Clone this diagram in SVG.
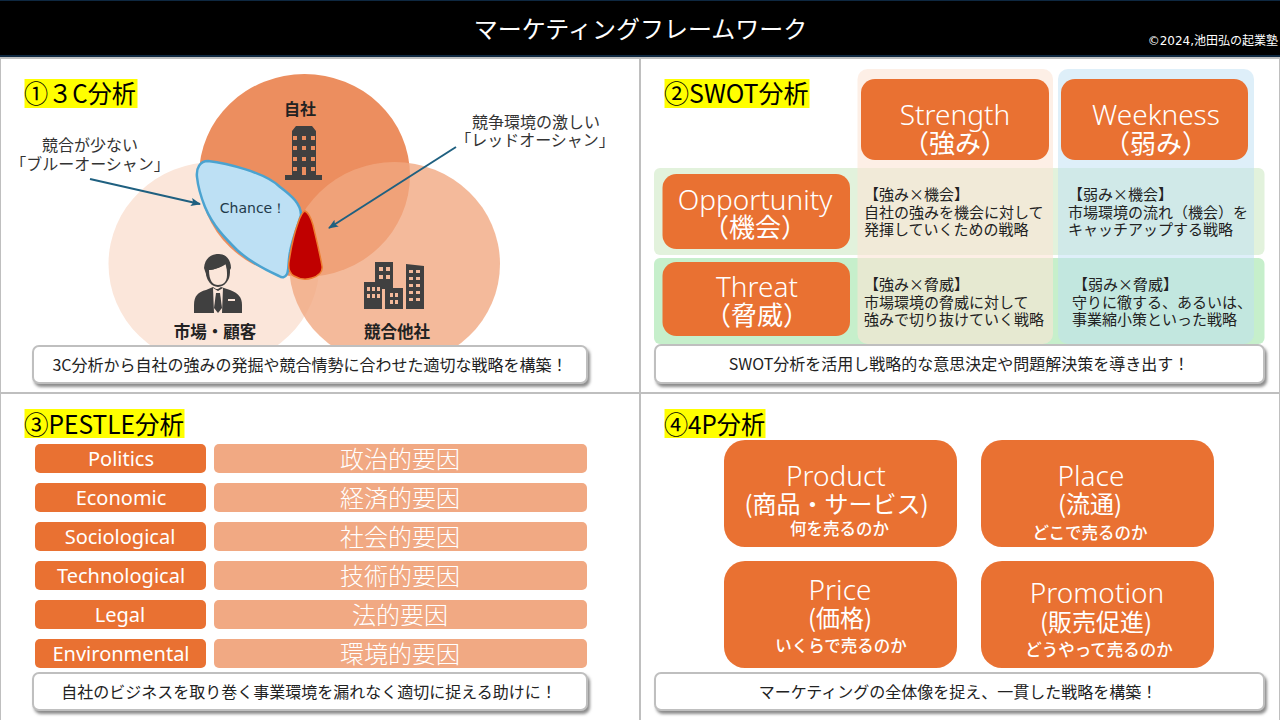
<svg xmlns="http://www.w3.org/2000/svg" width="1280" height="720" viewBox="0 0 1280 720">
<style>
text{font-family:"Noto Sans CJK JP","Noto Sans",sans-serif;fill:#1a1a1a}
.m{text-anchor:middle}
.w{fill:#fff}
.or{fill:#E97132}
.sec{font-size:25px;fill:#000}
.yl{fill:#FFFF00}
.note{fill:#fff;stroke:#BFBFBF;stroke-width:2;filter:url(#sh)}
.nt{font-size:16px;text-anchor:middle;fill:#222}
.cap{font-size:16px;text-anchor:middle;fill:#333}
.cell{font-size:15px;fill:#222}
.lat{font-family:"Noto Sans","Noto Sans CJK JP",sans-serif;font-size:28px;font-weight:300;fill:#fff;text-anchor:middle}
.jp26{font-size:26px;fill:#fff;text-anchor:middle;font-weight:400}
.pl{font-family:"Noto Sans",sans-serif;font-size:20px;fill:#fff;text-anchor:middle}
.pr{font-size:24px;fill:#fff;text-anchor:middle;font-weight:300}
.pb{fill:#F1A983}
.p24{font-size:24px;fill:#fff;text-anchor:middle;font-weight:400}
.p16{font-size:16.500px;fill:#fff;text-anchor:middle;font-weight:500}
.ic{fill:#404040}
.arr{stroke:#1F6080;stroke-width:2;fill:none;marker-end:url(#ah)}
</style>
<defs>
<filter id="sh" x="-5%" y="-20%" width="110%" height="150%"><feDropShadow dx="2" dy="3" stdDeviation="1.5" flood-color="#7f7f7f" flood-opacity="0.9"/></filter>
<marker id="ah" markerWidth="10" markerHeight="8" refX="9" refY="4" orient="auto" markerUnits="userSpaceOnUse"><path d="M0 0L10 4L0 8L2 4Z" fill="#1F6080"/></marker>
</defs>
<rect width="1280" height="720" fill="#fff"/>
<g id="header">
<rect x="0" y="0" width="1280" height="56" fill="#000"/>
<rect x="0" y="0" width="1280" height="1" fill="#0E2841"/>
<rect x="0" y="55" width="1280" height="2" fill="#0E2841"/>
<text class="m w" x="640.500" y="38" font-size="24">マーケティングフレームワーク</text>
<text x="1278" y="44.500" font-size="12" text-anchor="end" style="fill:#fff;font-family:'DejaVu Sans','Noto Sans CJK JP',sans-serif">©2024,池田弘の起業塾</text>
</g>
<g id="grid" fill="#BFBFBF">
<rect x="0" y="57" width="1280" height="2"/>
<rect x="639" y="57" width="2" height="663"/>
<rect x="0" y="392" width="1280" height="2"/>
<rect x="0" y="57" width="1" height="663"/>
<rect x="1279" y="57" width="1" height="663"/>
</g>

<g id="panel-3c">
<rect class="yl" x="24.500" y="79" width="113" height="29"/>
<text class="sec" x="24" y="103" textLength="112" lengthAdjust="spacingAndGlyphs">①３C分析</text>
<ellipse id="market" cx="214" cy="264" rx="105.500" ry="102" fill="#FBE6DA"/>
<ellipse id="self" cx="304.500" cy="175.500" rx="105.500" ry="101.500" fill="#EC8E5F"/>
<ellipse id="rival" cx="394.500" cy="264" rx="105.500" ry="102" fill="#F1A880" fill-opacity="0.79"/>
<path id="chance" d="M197 177C196 168 200 161 208 161C225 163 265 172 280 187C292 196 301 204 301 215C297 228 292 240 290 252C288 262 289 270 287 274C285 278 282 278 279 276C268 271 250 262 237 250C225 238 213 226 205 207C201 197 198 187 197 177Z" fill="#BDE0F4" stroke="#4BA3D0" stroke-width="2.500"/>
<path id="red" d="M305 211C309 213 311 218 313 225C316 238 320 254 322 266C323 272 318 276 312 278C306 280 299 279 294 276C289 273 288 269 289 262C291 248 294 234 298 223C300 217 302 212 305 211Z" fill="#C00000" stroke="#ED7D31" stroke-width="1.500"/>
<text class="m" x="253" y="212.500" style="font-family:'DejaVu Sans',sans-serif;font-size:14px;fill:#1F3A4A">Chance！</text>
<text class="m" x="300" y="115" font-size="16" font-weight="700" style="fill:#222">自社</text>
<text class="m" x="215" y="338" font-size="16.500" font-weight="700" style="fill:#222">市場・顧客</text>
<text class="m" x="397" y="338" font-size="16.500" font-weight="700" style="fill:#222">競合他社</text>
<text class="cap" x="90" y="150.500">競合が少ない</text>
<text class="cap" x="90" y="170">「ブルーオーシャン」</text>
<text class="cap" x="536" y="127.500">競争環境の激しい</text>
<text class="cap" x="535" y="146">「レッドオーシャン」</text>
<g id="icon-tower">
<path class="ic" d="M292 131L296 126H312L316 131V175H322V180H285V175H292Z"/>
<g fill="#EC8E5F"><rect x="293" y="136" width="4" height="4"/><rect x="302" y="136" width="4" height="4"/><rect x="311" y="136" width="4" height="4"/><rect x="293" y="146" width="4" height="4"/><rect x="302" y="146" width="4" height="4"/><rect x="311" y="146" width="4" height="4"/><rect x="293" y="157" width="4" height="4"/><rect x="302" y="157" width="4" height="4"/><rect x="311" y="157" width="4" height="4"/><rect x="293" y="167" width="4" height="4"/><rect x="302" y="167" width="4" height="8"/><rect x="311" y="167" width="4" height="4"/></g>
</g>
<g id="icon-person">
<path class="ic" d="M194 305C194 296 198 292 206 290L213 287L216 289H218L221 287L230 290C238 293 242 297 242 305V313H194Z"/>
<path d="M213 288L218 291L223 288L222 313H214Z" fill="#FBE6DA"/>
<path class="ic" d="M216 293H220L222 308L218 313L214 308Z"/>
<rect x="228" y="299" width="7" height="2" fill="#FBE6DA"/>
<ellipse cx="218" cy="272" rx="12" ry="15" class="ic"/>
<path d="M209 270C214 270 222 267 225 263C227 267 227 272 227 275C227 282 223 285 218 285C213 285 209 281 209 270Z" fill="#FBE6DA"/>
<path class="ic" d="M204 268C205 258 211 254 219 254C226 254 231 260 231 268L228 274L226 264C220 268 212 270 208 270L207 277Z"/>
</g>
<g id="icon-city">
<g class="ic"><rect x="375" y="262" width="18" height="27"/><rect x="364" y="282" width="18" height="27"/><rect x="385" y="288" width="18" height="21"/><path d="M406 264L424 266V309H406Z"/></g>
<g fill="#F4BA9B">
<rect x="379" y="267" width="4" height="4"/><rect x="386" y="267" width="4" height="4"/><rect x="379" y="275" width="4" height="4"/><rect x="386" y="275" width="4" height="4"/>
<rect x="367" y="287" width="3" height="4"/><rect x="372" y="287" width="3" height="4"/><rect x="377" y="287" width="3" height="4"/><rect x="367" y="294" width="3" height="4"/><rect x="372" y="294" width="3" height="4"/><rect x="377" y="294" width="3" height="4"/>
<rect x="390" y="293" width="3" height="4"/><rect x="395" y="293" width="3" height="4"/><rect x="390" y="300" width="3" height="4"/><rect x="395" y="300" width="3" height="4"/>
<rect x="409" y="270" width="4" height="3"/><rect x="416" y="270" width="4" height="3"/><rect x="409" y="277" width="4" height="3"/><rect x="416" y="277" width="4" height="3"/><rect x="409" y="284" width="4" height="3"/><rect x="416" y="284" width="4" height="3"/><rect x="409" y="291" width="4" height="3"/><rect x="416" y="291" width="4" height="3"/><rect x="409" y="298" width="4" height="3"/><rect x="416" y="298" width="4" height="3"/>
</g>
</g>
<g id="connectors">
<path class="arr" d="M90 179L200 204"/>
<path class="arr" d="M456 147L329 228"/>
</g>
<rect class="note" x="33" y="346" width="554" height="37" rx="6"/>
<text class="nt" x="310" y="371">3C分析から自社の強みの発掘や競合情勢に合わせた適切な戦略を構築！</text>
</g>

<g id="panel-swot">
<rect class="yl" x="664.500" y="79" width="145" height="29"/>
<text class="sec" x="664" y="103">②SWOT分析</text>
<rect x="654" y="168" width="610.500" height="87" rx="6" fill="#E2F2DC"/>
<rect x="654" y="258" width="610.500" height="86" rx="6" fill="#C6EFCB"/>
<rect x="857.500" y="69" width="195.500" height="275" rx="10" fill="#FBE5D6" fill-opacity="0.6"/>
<rect x="1058" y="69" width="196" height="275" rx="10" fill="#BDE0F4" fill-opacity="0.5"/>
<g id="s"><rect class="or" x="861" y="79" width="188" height="81" rx="14"/><text class="lat" x="955" y="125">Strength</text><text class="jp26" x="955" y="153">（強み）</text></g>
<g id="w"><rect class="or" x="1061" y="79" width="187" height="81" rx="14"/><text class="lat" x="1156" y="125">Weekness</text><text class="jp26" x="1156" y="153">（弱み）</text></g>
<g id="o"><rect class="or" x="662.500" y="174" width="187.500" height="75" rx="14"/><text class="lat" x="755" y="210">Opportunity</text><text class="jp26" x="755" y="237">（機会）</text></g>
<g id="t"><rect class="or" x="662.500" y="262" width="187.500" height="74" rx="14"/><text class="lat" x="757" y="297">Threat</text><text class="jp26" x="757" y="325">（脅威）</text></g>
<g id="so"><text class="cell" x="864" y="200">【強み×機会】</text><text class="cell" x="864" y="217.500">自社の強みを機会に対して</text><text class="cell" x="864" y="235">発揮していくための戦略</text></g>
<g id="wo"><text class="cell" x="1068" y="200">【弱み×機会】</text><text class="cell" x="1068" y="217.500">市場環境の流れ（機会）を</text><text class="cell" x="1068" y="235">キャッチアップする戦略</text></g>
<g id="st"><text class="cell" x="864" y="290">【強み×脅威】</text><text class="cell" x="864" y="307.500">市場環境の脅威に対して</text><text class="cell" x="864" y="325">強みで切り抜けていく戦略</text></g>
<g id="wt"><text class="cell" x="1073" y="290">【弱み×脅威】</text><text class="cell" x="1072" y="307.500">守りに徹する、あるいは、</text><text class="cell" x="1072" y="325">事業縮小策といった戦略</text></g>
<rect class="note" x="655" y="345" width="609" height="38" rx="6"/>
<text class="nt" x="959" y="370">SWOT分析を活用し戦略的な意思決定や問題解決策を導き出す！</text>
</g>

<g id="panel-pestle">
<rect class="yl" x="24.500" y="409" width="160" height="29"/>
<text class="sec" x="24" y="434" textLength="160" lengthAdjust="spacingAndGlyphs">③PESTLE分析</text>
<g id="pe1"><rect class="or" x="35" y="444" width="171" height="29" rx="5"/><text class="pl" x="121" y="465.500">Politics</text><rect class="pb" x="214" y="444" width="373" height="29" rx="5"/><text class="pr" x="400" y="468">政治的要因</text></g>
<g id="pe2"><rect class="or" x="35" y="483" width="171" height="29" rx="5"/><text class="pl" x="121" y="504.500">Economic</text><rect class="pb" x="214" y="483" width="373" height="29" rx="5"/><text class="pr" x="400" y="507">経済的要因</text></g>
<g id="pe3"><rect class="or" x="35" y="522" width="171" height="29" rx="5"/><text class="pl" x="120" y="543.500">Sociological</text><rect class="pb" x="214" y="522" width="373" height="29" rx="5"/><text class="pr" x="400" y="546">社会的要因</text></g>
<g id="pe4"><rect class="or" x="35" y="561" width="171" height="29" rx="5"/><text class="pl" x="121" y="582.500">Technological</text><rect class="pb" x="214" y="561" width="373" height="29" rx="5"/><text class="pr" x="400" y="585">技術的要因</text></g>
<g id="pe5"><rect class="or" x="35" y="600" width="171" height="29" rx="5"/><text class="pl" x="120" y="621.500">Legal</text><rect class="pb" x="214" y="600" width="373" height="29" rx="5"/><text class="pr" x="400" y="624">法的要因</text></g>
<g id="pe6"><rect class="or" x="35" y="639" width="171" height="29" rx="5"/><text class="pl" x="121" y="660.500">Environmental</text><rect class="pb" x="214" y="639" width="373" height="29" rx="5"/><text class="pr" x="400" y="663">環境的要因</text></g>
<rect class="note" x="33" y="673" width="554" height="37" rx="6"/>
<text class="nt" x="309" y="698">自社のビジネスを取り巻く事業環境を漏れなく適切に捉える助けに！</text>
</g>

<g id="panel-4p">
<rect class="yl" x="664.500" y="409" width="101" height="29"/>
<text class="sec" x="664" y="434" textLength="101" lengthAdjust="spacingAndGlyphs">④4P分析</text>
<g id="product"><rect class="or" x="724" y="440" width="233" height="107" rx="21"/><text class="lat" x="836" y="486">Product</text><text class="p24" x="836.500" y="513">(商品・サービス)</text><text class="p16" x="839.500" y="535">何を売るのか</text></g>
<g id="place"><rect class="or" x="981" y="440" width="233" height="107" rx="21"/><text class="lat" x="1091" y="486">Place</text><text class="p24" x="1090" y="513">(流通)</text><text class="p16" x="1090" y="539">どこで売るのか</text></g>
<g id="price"><rect class="or" x="724" y="561" width="233" height="107" rx="21"/><text class="lat" x="840" y="600">Price</text><text class="p24" x="840" y="627">(価格)</text><text class="p16" x="841" y="652">いくらで売るのか</text></g>
<g id="promotion"><rect class="or" x="981" y="561" width="233" height="107" rx="21"/><text class="lat" x="1097" y="603">Promotion</text><text class="p24" x="1096" y="631">(販売促進)</text><text class="p16" x="1099" y="656">どうやって売るのか</text></g>
<rect class="note" x="655" y="673" width="609" height="37" rx="6"/>
<text class="nt" x="958" y="698">マーケティングの全体像を捉え、一貫した戦略を構築！</text>
</g>
</svg>
